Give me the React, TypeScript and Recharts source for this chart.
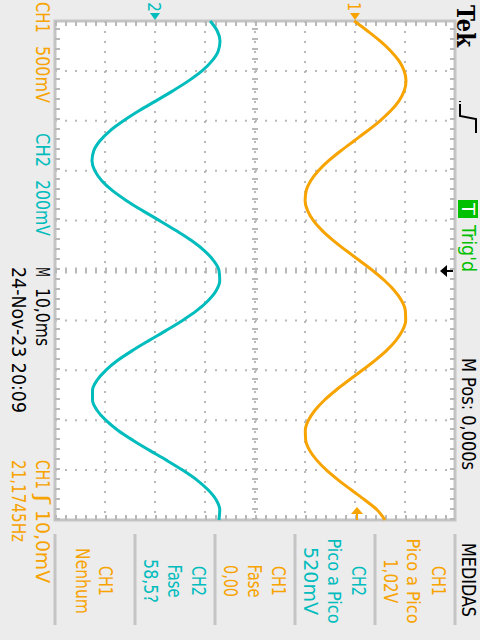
import { CartesianGrid, Line, LineChart, ReferenceArea, ReferenceLine, XAxis, YAxis } from "recharts";

// time in ms (M 10,0ms / div, M Pos 0,000s at centre)
const timeMs = [
  -50, -48, -46, -44, -42, -40, -38, -36, -34, -32, -30, -28, -26, -24, -22, -20, -18, -16, -14, -12, -10, -8, -6, -4, -2,
  0, 2, 4, 6, 8, 10, 12, 14, 16, 18, 20, 22, 24, 26, 28, 30, 32, 34, 36, 38, 40, 42, 44, 46, 48, 50
];

// CH1, mV (500mV/div)
const ch1mV = [
  -8, 125, 250, 357, 440, 492, 510, 492, 440, 357, 250, 125, -8, -141, -263, -366, -443, -488, -499, -474, -416, -328, -216, -89, 45,
  176, 295, 393, 465, 503, 507, 475, 410, 317, 201, 72, -62, -191, -307, -400, -465, -497, -493, -455, -383, -285, -166, -35, 99, 222, 300
];

// CH2, mV (200mV/div)
const ch2mV = [
  221, 249, 260, 253, 228, 188, 134, 71, 4, -64, -126, -180, -220, -245, -252, -241, -213, -170, -114, -50, 18, 84, 146, 197, 234,
  256, 259, 245, 213, 168, 110, 45, -23, -89, -149, -197, -232, -250, -250, -232, -197, -149, -89, -23, 45, 110, 168, 213, 245, 259, 256
];

const ch1Ticks = [-3000, -2500, -2000, -1500, -1000, -500, 0, 500, 1000];
const timeTicks = [-50, -40, -30, -20, -10, 0, 10, 20, 30, 40, 50];

const rows = timeMs.map((t, i) => ({ t, ch1: ch1mV[i], ch2: ch2mV[i] }));

const ORANGE = "#f7a300";
const CYAN = "#00bcbc";
const GREEN = "#00c000";
const GRID = "#b9b9b9";
const FONT = "'DejaVu Sans', sans-serif";

function VText({
  x, y, len, color = "#000", size = 20, anchor = "start", weight = "normal", family = FONT, children
}: {
  x: number; y: number; len: number; color?: string; size?: number; anchor?: "start" | "middle";
  weight?: string; family?: string; children: string;
}) {
  return (
    <text
      transform={`translate(${x},${y}) rotate(90)`}
      fill={color}
      fontSize={size}
      fontFamily={family}
      fontWeight={weight}
      textAnchor={anchor}
      textLength={len}
      lengthAdjust="spacingAndGlyphs"
      style={{ whiteSpace: "pre" }}
    >
      {children}
    </text>
  );
}

const measures = [
  { lines: ["CH1", "Nenhum"], xs: [99, 76], lens: [30, 66], color: ORANGE },
  { lines: ["CH2", "Fase", "58,5?"], xs: [192, 168, 144], lens: [30, 33, 44], color: CYAN },
  { lines: ["CH1", "Fase", "0,00"], xs: [272, 248, 224], lens: [30, 33, 32], color: ORANGE },
  { lines: ["CH2", "Pico a Pico", "520mV"], xs: [352, 328, 304], lens: [30, 85, 68], color: CYAN },
  { lines: ["CH1", "Pico a Pico", "1,02V"], xs: [432, 407, 384], lens: [30, 85, 44], color: ORANGE }
];

export default function App() {
  return (
    <div style={{ position: "absolute", left: 0, top: 0, width: 480, height: 640, background: "#ececec" }}>
      <LineChart
        width={480}
        height={640}
        data={rows}
        layout="vertical"
        margin={{ top: 21, right: 25, bottom: 120, left: 55 }}
      >
        <XAxis xAxisId="ch1" type="number" domain={[-3000, 1000]} ticks={ch1Ticks} hide />
        <XAxis xAxisId="ch2" type="number" domain={[-400, 1200]} hide />
        <YAxis yAxisId="t" type="number" dataKey="t" domain={[-50, 50]} ticks={timeTicks} hide />
        <CartesianGrid
          xAxisId="ch1"
          yAxisId="t"
          fill="#ffffff"
          stroke={GRID}
          strokeWidth={2}
          strokeDasharray="2 8"
        />
        <ReferenceLine xAxisId="ch1" yAxisId="t" x={-1000} stroke={GRID} strokeWidth={6} strokeDasharray="2 8" />
        <ReferenceLine xAxisId="ch1" yAxisId="t" y={0} stroke={GRID} strokeWidth={6} strokeDasharray="2 8" />
        <ReferenceLine xAxisId="ch1" yAxisId="t" y={-49.5} stroke={GRID} strokeWidth={5} strokeDasharray="2 8" />
        <ReferenceLine xAxisId="ch1" yAxisId="t" y={49.5} stroke={GRID} strokeWidth={5} strokeDasharray="2 8" />
        <ReferenceLine xAxisId="ch1" yAxisId="t" x={-2975} stroke={GRID} strokeWidth={5} strokeDasharray="2 8" />
        <ReferenceLine xAxisId="ch1" yAxisId="t" x={975} stroke={GRID} strokeWidth={5} strokeDasharray="2 8" />
        <ReferenceArea
          xAxisId="ch1"
          yAxisId="t"
          x1={-3000}
          x2={1000}
          y1={-50}
          y2={50}
          fill="none"
          stroke="#c4c4c4"
          strokeWidth={3}
        />
        <Line
          xAxisId="ch2"
          yAxisId="t"
          dataKey="ch2"
          type="monotone"
          stroke={CYAN}
          strokeWidth={3}
          dot={false}
          isAnimationActive={false}
        />
        <Line
          xAxisId="ch1"
          yAxisId="t"
          dataKey="ch1"
          type="monotone"
          stroke={ORANGE}
          strokeWidth={3}
          dot={false}
          isAnimationActive={false}
        />
      </LineChart>

      <svg width={480} height={640} style={{ position: "absolute", left: 0, top: 0, pointerEvents: "none" }}>
        {/* left side */}
        <VText x={36} y={2} len={31} color={ORANGE}>CH1</VText>
        <VText x={36} y={46} len={57} color={ORANGE}>500mV</VText>
        <VText x={36} y={133} len={34} color={CYAN}>CH2</VText>
        <VText x={36} y={180} len={56} color={CYAN}>200mV</VText>
        <VText x={36} y={267} len={10}>M</VText>
        <VText x={36} y={288} len={58}>10,0ms</VText>
        <VText x={12} y={267} len={146}>24-Nov-23 20:09</VText>
        <VText x={36} y={460} len={29} color={ORANGE}>CH1</VText>
        <VText x={36} y={494} len={10} color={ORANGE}>ʃ</VText>
        <VText x={36} y={510} len={73} color={ORANGE}>10,0mV</VText>
        <VText x={12} y={460} len={82} color={ORANGE}>21,1745Hz</VText>

        {/* channel markers */}
        <VText x={148} y={2} len={10} size={18} color={CYAN}>2</VText>
        <path d="M150 13 L160 13 L155 20 Z" fill={CYAN} />
        <VText x={348} y={2} len={9} size={18} color={ORANGE}>1</VText>
        <path d="M350 13 L360 13 L355 20 Z" fill={ORANGE} />
        <path d="M351 514 L363 514 L357 507 Z M356 514 h2 v6 h-2 Z" fill={ORANGE} />
        <path d="M440 271 L447 265 L447 277 Z M447 270 h6 v2 h-6 Z" fill="#000" />

        {/* right side */}
        <VText x={457} y={5} len={42} size={25} weight="bold" family="'DejaVu Serif', serif">Tek</VText>
        <path d="M460 101 v1 M460 104 v12 L476 119 v14" stroke="#000" strokeWidth={2} fill="none" />
        <rect x={458} y={200} width={20} height={18} fill={GREEN} />
        <VText x={462} y={203} len={12} size={18} color="#fff">T</VText>
        <VText x={462} y={225} len={47} color={GREEN}>Trig'd</VText>
        <VText x={462} y={358} len={112}>M Pos: 0,000s</VText>
        <VText x={462} y={543} len={74}>MEDIDAS</VText>

        {/* measurement panel */}
        {[55, 135, 215, 295, 375, 455].map((x) => (
          <line key={x} x1={x} x2={x} y1={534} y2={625} stroke="#c4c4c4" strokeWidth={3} />
        ))}
        {measures.map((m, i) =>
          m.lines.map((s, j) => (
            <VText
              key={`${i}-${j}`}
              x={m.xs[j]}
              y={581}
              len={m.lens[j]}
              size={s.length > 8 ? 18 : 20}
              anchor="middle"
              color={m.color}
            >
              {s}
            </VText>
          ))
        )}
      </svg>
    </div>
  );
}
